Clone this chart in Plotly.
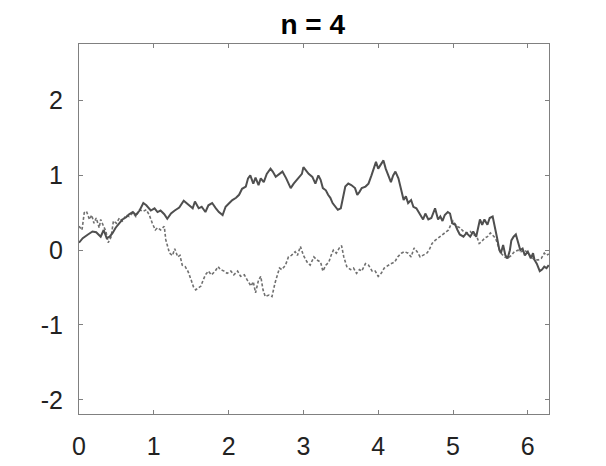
import plotly.graph_objects as go

# path 1 (solid)
t1 = [0.00, 0.05, 0.12, 0.18, 0.23, 0.29, 0.33, 0.37, 0.41, 0.45, 0.49, 0.54, 0.58, 0.63, 0.67,
      0.72, 0.76, 0.81, 0.86, 0.90, 0.96, 1.01, 1.05, 1.09, 1.14, 1.18, 1.23, 1.28, 1.34, 1.40,
      1.45, 1.49, 1.52, 1.55, 1.60, 1.64, 1.69, 1.73, 1.78, 1.83, 1.87, 1.92, 1.96, 2.01, 2.05,
      2.10, 2.14, 2.18, 2.23, 2.26, 2.29, 2.33, 2.36, 2.40, 2.43, 2.47, 2.51, 2.56, 2.59, 2.63,
      2.68, 2.72, 2.77, 2.80, 2.83, 2.87, 2.91, 2.95, 2.98, 3.00, 3.03, 3.07, 3.12, 3.16, 3.20,
      3.23, 3.26, 3.30, 3.33, 3.36, 3.39, 3.43, 3.46, 3.50, 3.53, 3.56, 3.60, 3.64, 3.69, 3.72,
      3.75, 3.78, 3.83, 3.87, 3.91, 3.94, 3.97, 4.00, 4.04, 4.07, 4.10, 4.14, 4.17, 4.20, 4.23,
      4.27, 4.31, 4.34, 4.37, 4.40, 4.44, 4.47, 4.51, 4.56, 4.60, 4.63, 4.67, 4.71, 4.74, 4.76,
      4.80, 4.83, 4.86, 4.89, 4.93, 4.96, 4.99, 5.03, 5.06, 5.09, 5.14, 5.18, 5.23, 5.27, 5.31,
      5.34, 5.36, 5.39, 5.42, 5.46, 5.49, 5.53, 5.56, 5.59, 5.62, 5.64, 5.67, 5.70, 5.73, 5.76,
      5.78, 5.81, 5.84, 5.87, 5.90, 5.93, 5.96, 6.00, 6.04, 6.07, 6.09, 6.12, 6.16, 6.19, 6.22,
      6.25, 6.28]
w1 = [0.10, 0.16, 0.21, 0.25, 0.24, 0.18, 0.27, 0.16, 0.18, 0.23, 0.30, 0.36, 0.41, 0.44, 0.48,
      0.51, 0.47, 0.53, 0.63, 0.60, 0.53, 0.56, 0.51, 0.53, 0.48, 0.42, 0.49, 0.53, 0.57, 0.66,
      0.62, 0.58, 0.56, 0.65, 0.56, 0.58, 0.51, 0.60, 0.63, 0.56, 0.51, 0.47, 0.58, 0.63, 0.67,
      0.70, 0.74, 0.82, 0.85, 0.96, 1.00, 0.89, 0.97, 0.87, 0.96, 0.91, 1.02, 1.09, 1.05, 0.98,
      1.02, 1.05, 0.96, 0.89, 0.83, 0.89, 0.94, 0.98, 1.02, 1.11, 1.07, 1.02, 0.98, 0.89, 1.00,
      0.94, 0.83, 0.80, 0.74, 0.70, 0.63, 0.58, 0.54, 0.56, 0.72, 0.85, 0.89, 0.87, 0.83, 0.74,
      0.78, 0.83, 0.85, 0.89, 1.00, 1.09, 1.18, 1.09, 1.16, 1.20, 1.09, 1.00, 0.91, 1.00, 1.05,
      0.96, 0.80, 0.67, 0.72, 0.63, 0.67, 0.58, 0.56, 0.47, 0.41, 0.49, 0.41, 0.43, 0.51, 0.56,
      0.41, 0.45, 0.39, 0.47, 0.51, 0.49, 0.36, 0.34, 0.27, 0.21, 0.18, 0.23, 0.18, 0.25, 0.18,
      0.32, 0.41, 0.34, 0.41, 0.34, 0.43, 0.45, 0.32, 0.16, 0.00, -0.04, 0.07, -0.07, -0.11, 0.00,
      0.13, 0.18, 0.21, 0.09, 0.00, 0.02, -0.07, -0.02, -0.11, -0.04, -0.13, -0.18, -0.28, -0.26, -0.22,
      -0.24, -0.20]

# path 2 (dashed)
t2 = [0.00, 0.04, 0.07, 0.10, 0.14, 0.17, 0.20, 0.23, 0.27, 0.29, 0.32, 0.36, 0.39, 0.43, 0.46,
      0.50, 0.54, 0.58, 0.63, 0.67, 0.72, 0.76, 0.81, 0.86, 0.90, 0.94, 0.98, 1.02, 1.05, 1.09,
      1.14, 1.16, 1.21, 1.25, 1.28, 1.32, 1.35, 1.38, 1.42, 1.46, 1.50, 1.53, 1.56, 1.60, 1.63,
      1.66, 1.69, 1.73, 1.77, 1.82, 1.86, 1.89, 1.94, 1.98, 2.03, 2.07, 2.12, 2.16, 2.21, 2.25,
      2.30, 2.33, 2.36, 2.40, 2.43, 2.46, 2.49, 2.54, 2.58, 2.62, 2.65, 2.68, 2.71, 2.76, 2.80,
      2.84, 2.89, 2.92, 2.96, 3.00, 3.05, 3.09, 3.14, 3.18, 3.23, 3.26, 3.30, 3.34, 3.37, 3.40,
      3.44, 3.48, 3.51, 3.54, 3.58, 3.63, 3.67, 3.71, 3.75, 3.78, 3.83, 3.87, 3.92, 3.96, 4.00,
      4.04, 4.08, 4.13, 4.17, 4.22, 4.26, 4.31, 4.35, 4.40, 4.44, 4.48, 4.52, 4.56, 4.60, 4.65,
      4.68, 4.72, 4.76, 4.80, 4.85, 4.89, 4.94, 4.97, 5.00, 5.05, 5.09, 5.14, 5.18, 5.23, 5.27,
      5.32, 5.35, 5.38, 5.42, 5.46, 5.50, 5.55, 5.58, 5.61, 5.64, 5.69, 5.73, 5.78, 5.82, 5.87,
      5.91, 5.96, 6.00, 6.05, 6.09, 6.14, 6.18, 6.22, 6.25, 6.28]
w2 = [0.32, 0.27, 0.50, 0.52, 0.41, 0.47, 0.36, 0.43, 0.30, 0.41, 0.34, 0.25, 0.10, 0.18, 0.39,
      0.36, 0.43, 0.39, 0.47, 0.45, 0.50, 0.45, 0.54, 0.52, 0.54, 0.47, 0.36, 0.27, 0.30, 0.27,
      0.32, 0.14, -0.04, -0.07, 0.02, -0.09, -0.07, -0.20, -0.22, -0.29, -0.40, -0.49, -0.53, -0.50, -0.48,
      -0.40, -0.33, -0.28, -0.33, -0.28, -0.22, -0.26, -0.28, -0.31, -0.28, -0.33, -0.28, -0.35, -0.33, -0.40,
      -0.48, -0.42, -0.57, -0.40, -0.35, -0.53, -0.62, -0.60, -0.62, -0.44, -0.35, -0.24, -0.26, -0.20, -0.09,
      -0.07, -0.02, -0.07, 0.05, -0.07, -0.16, -0.20, -0.09, -0.13, -0.16, -0.28, -0.20, -0.16, -0.07, 0.00,
      -0.04, 0.03, 0.06, -0.09, -0.22, -0.26, -0.24, -0.31, -0.26, -0.28, -0.18, -0.20, -0.28, -0.28, -0.35,
      -0.31, -0.24, -0.20, -0.18, -0.16, -0.09, -0.04, -0.02, -0.04, -0.09, 0.03, -0.02, -0.09, -0.07, -0.04,
      0.00, 0.09, 0.13, 0.16, 0.21, 0.23, 0.27, 0.34, 0.39, 0.32, 0.30, 0.25, 0.23, 0.25, 0.21,
      0.18, 0.09, 0.11, 0.16, 0.18, 0.23, 0.18, 0.13, 0.04, -0.04, -0.09, -0.11, -0.07, -0.02, 0.00,
      -0.02, 0.00, -0.04, -0.09, -0.13, -0.13, -0.11, -0.04, -0.07, -0.05]

xticks = [0, 1, 2, 3, 4, 5, 6]
yticks = [-2, -1, 0, 1, 2]
ylabels = ["-2", "-1", "0", "1", "2"]

fig = go.Figure()
fig.add_trace(go.Scatter(x=t2, y=w2, mode="lines",
                         line=dict(color="#707070", width=1.6, dash="3px,2px")))
fig.add_trace(go.Scatter(x=t1, y=w1, mode="lines",
                         line=dict(color="#4f4f4f", width=2)))

axis = dict(showline=True, linecolor="#808080", linewidth=1, mirror="ticks",
            ticks="inside", ticklen=4, tickcolor="#808080", showgrid=False, zeroline=False,
            automargin=False,
            tickfont=dict(family="Liberation Sans, Arial, sans-serif", size=25, color="#222222"))

fig.update_layout(
    width=606, height=466,
    margin=dict(l=79, r=57, t=44, b=52, autoexpand=False),
    paper_bgcolor="white", plot_bgcolor="white",
    showlegend=False,
    title=dict(text="<b>n = 4</b>", x=0.516, xanchor="center", y=0.948, yanchor="middle",
               font=dict(family="Liberation Sans, Arial, sans-serif", size=28, color="black")),
    xaxis=dict(axis, range=[0, 6.2832], tickvals=xticks, ticklabelstandoff=10),
    yaxis=dict(axis, range=[-2.19, 2.756], tickvals=yticks, ticktext=ylabels,
               ticklabelstandoff=10),
)

fig.write_html("out.html", config={"displayModeBar": False},
               post_script="document.body.style.margin='0';")
